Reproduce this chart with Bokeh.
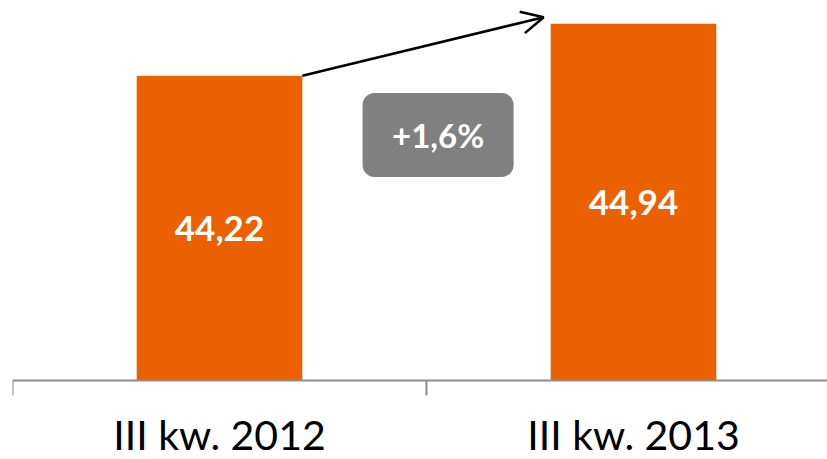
from bokeh.plotting import figure
from bokeh.models import Range1d, ColumnDataSource, Arrow, OpenHead
from bokeh.core.properties import value
from bokeh.embed import file_html
from bokeh.resources import INLINE

categories = ["III kw. 2012", "III kw. 2013"]
values = [44.22, 44.94]
baseline = 40.0

ORANGE = "#EB6100"
GRAY_BOX = "#808080"
AXIS_GRAY = "#8C8C8C"
FONT = "Lato"

PX_X = 414.0    # px per category
PX_Y = 72.22    # px per value unit
BOTTOM_PX = 79  # space under the baseline for the category labels

xs = [0.5 + i for i in range(len(values))]
fmt = [f"{v:.2f}".replace(".", ",") for v in values]
mids = [(baseline + v) / 2 for v in values]
src = ColumnDataSource(dict(x=xs, top=values, label=fmt, mid=mids))

x_max = 815 / PX_X
p = figure(width=827, height=459, output_backend="svg", toolbar_location=None,
           x_range=Range1d(0, x_max),
           y_range=Range1d(baseline - BOTTOM_PX / PX_Y, baseline + 372 / PX_Y),
           min_border_left=12, min_border_right=0, min_border_top=8, min_border_bottom=0)
p.outline_line_color = None
p.grid.visible = False
p.xaxis.visible = False
p.yaxis.visible = False
p.background_fill_color = "white"
p.border_fill_color = "white"

p.vbar(x="x", top="top", bottom=baseline, width=0.4, source=src,
       fill_color=ORANGE, line_color=None)
p.text(x="x", y="mid", text="label", source=src, text_color="white",
       text_font=value(FONT), text_font_style="bold", text_font_size="35px",
       text_align="center", text_baseline="middle")

# category axis: line at the baseline, ticks on category boundaries
p.segment(x0=[0], y0=[baseline], x1=[x_max], y1=[baseline],
          line_color=AXIS_GRAY, line_width=2)
bounds = [float(i) for i in range(len(values) + 1)]
p.segment(x0=bounds, y0=[baseline] * len(bounds), x1=bounds,
          y1=[baseline - 15 / PX_Y] * len(bounds), line_color=AXIS_GRAY, line_width=2)
p.text(x=xs, y=[baseline - 54 / PX_Y] * len(xs), text=categories, text_color="black",
       text_font=value(FONT), text_font_size="41px",
       text_align="center", text_baseline="middle")

# change annotation
pct = (values[1] / values[0] - 1) * 100
pct_txt = f"+{pct:.1f}%".replace(".", ",")
p.rect(x=[1.028], y=[43.40], width=151, height=84, width_units="screen",
       height_units="screen", fill_color=GRAY_BOX, line_color=None, border_radius=12)
p.text(x=[1.028], y=[43.40], text=[pct_txt], text_color="white",
       text_font=value(FONT), text_font_style="bold", text_font_size="33px",
       text_align="center", text_baseline="middle")

p.add_layout(Arrow(end=OpenHead(size=22, line_width=2.5, line_color="black"),
                   x_start=0.7, y_start=values[0], x_end=1.283, y_end=45.03,
                   line_width=2.5, line_color="black"))

open("out.html", "w").write(file_html(p, INLINE))
